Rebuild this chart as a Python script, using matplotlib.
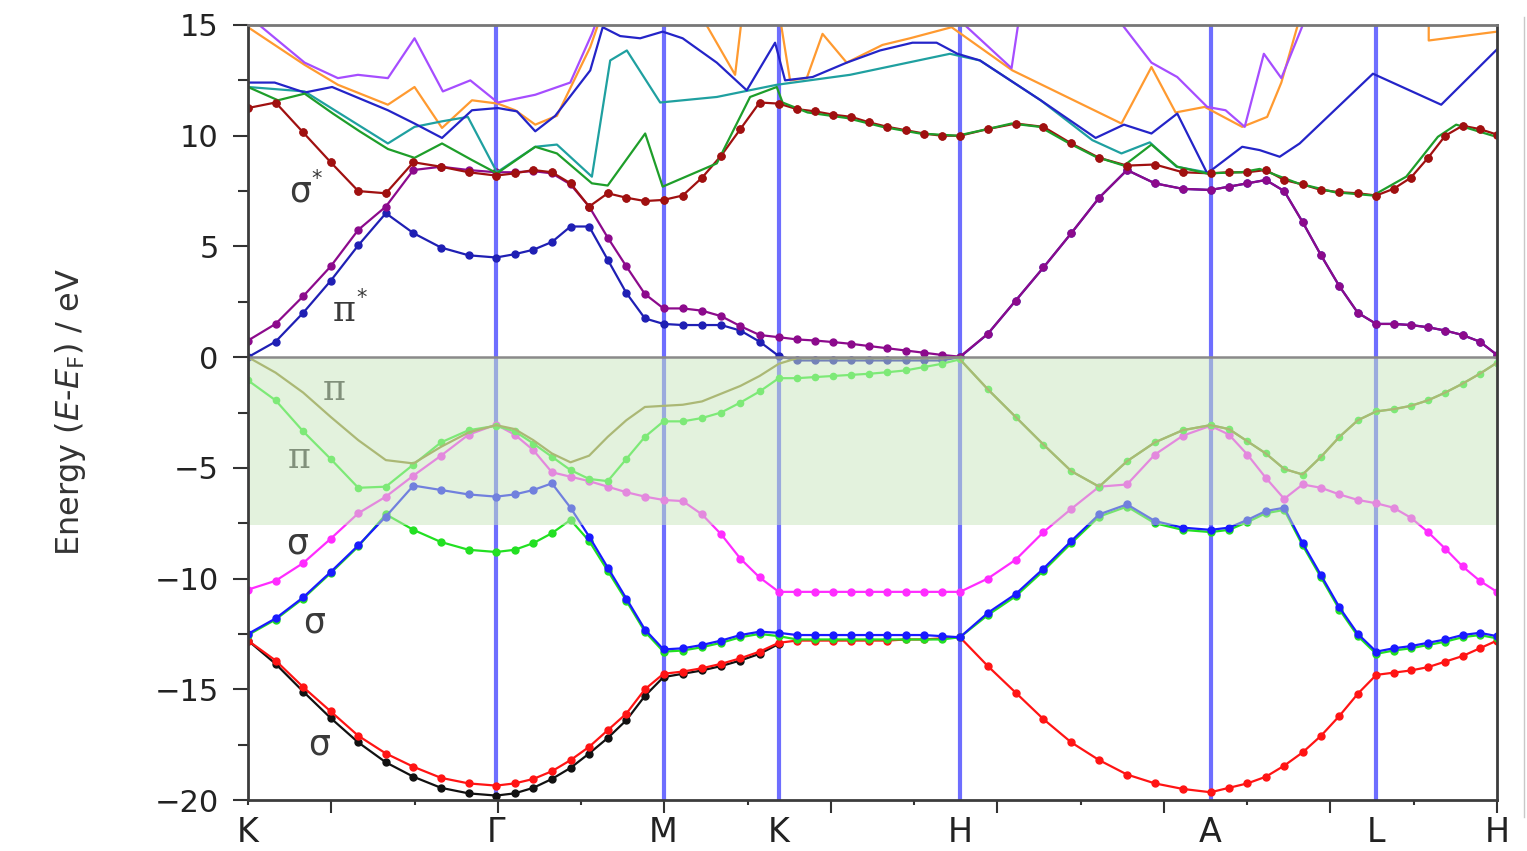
import numpy as np
import matplotlib
matplotlib.use("Agg")
import matplotlib.pyplot as plt
from matplotlib.ticker import FixedLocator

nan = np.nan

# high-symmetry points on the k-path (x in tick units)
sym_labels = ["K", "Γ", "M", "K", "H", "A", "L", "H"]
sym_pos = [0.0, 2.98, 4.99, 6.375, 8.55, 11.56, 13.55, 15.0]
seg_points = [9, 9, 6, 10, 9, 9, 7]

# ---- bands with k-point markers (60 k-points) ----
sigma_low = [
    -12.8, -13.7, -14.9, -16.0, -17.1, -17.9, -18.5, -19.0, -19.25, -19.35,
    -19.25, -19.05, -18.7, -18.2, -17.6, -16.85, -16.1, -15.0, -14.3,
    -14.2, -14.05, -13.85, -13.6, -13.3, -12.9,
    -12.8, -12.8, -12.8, -12.8, -12.8, -12.8, -12.75, -12.75, -12.7, -12.65,
    -13.95, -15.15, -16.35, -17.4, -18.2, -18.85, -19.25, -19.5, -19.65,
    -19.45, -19.25, -18.95, -18.45, -17.85, -17.1, -16.2, -15.2, -14.35,
    -14.25, -14.15, -14.0, -13.75, -13.5, -13.15, -12.8]

sigma_black = [
    -12.8, -13.85, -15.1, -16.3, -17.4, -18.3, -18.95, -19.45, -19.7, -19.8,
    -19.7, -19.45, -19.05, -18.55, -17.9, -17.2, -16.4, -15.3, -14.45,
    -14.3, -14.15, -13.95, -13.7, -13.4, -12.95]

sigma_blue = [
    -12.5, -11.8, -10.85, -9.7, -8.5, -7.2, -5.8, -6.0, -6.2, -6.3,
    -6.2, -6.0, -5.7, -6.8, -8.1, -9.5, -10.9, -12.3, -13.2,
    -13.15, -13.0, -12.8, -12.55, -12.4, -12.45,
    -12.55, -12.55, -12.55, -12.55, -12.55, -12.55, -12.55, -12.55, -12.6, -12.65,
    -11.55, -10.7, -9.55, -8.3, -7.1, -6.65, -7.4, -7.7, -7.8,
    -7.7, -7.35, -6.95, -6.8, -8.4, -9.85, -11.3, -12.5, -13.3,
    -13.15, -13.05, -12.9, -12.75, -12.55, -12.45, -12.6]

sigma_magenta = [
    -10.5, -10.1, -9.3, -8.2, -7.05, -6.3, -5.35, -4.45, -3.5, -3.05,
    -3.5, -4.2, -5.2, -5.4, -5.6, -5.85, -6.1, -6.3, -6.45,
    -6.5, -7.1, -8.0, -9.1, -9.95, -10.6,
    -10.6, -10.6, -10.6, -10.6, -10.6, -10.6, -10.6, -10.6, -10.6, -10.6,
    -10.0, -9.15, -7.9, -6.85, -5.85, -5.75, -4.4, -3.55, -3.1,
    -3.5, -4.4, -5.45, -6.4, -5.75, -5.9, -6.2, -6.45, -6.6,
    -6.8, -7.25, -7.9, -8.65, -9.45, -10.1, -10.6]

pi_low = [
    -12.55, -11.85, -10.9, -9.75, -8.55, -7.1, -7.8, -8.35, -8.7, -8.8,
    -8.7, -8.4, -7.95, -7.35, -8.3, -9.65, -11.0, -12.4, -13.3,
    -13.25, -13.1, -12.9, -12.65, -12.5, -12.6,
    -12.75, -12.75, -12.75, -12.75, -12.75, -12.75, -12.75, -12.75, -12.75, -12.65,
    -11.65, -10.8, -9.65, -8.4, -7.2, -6.75, -7.5, -7.8, -7.9,
    -7.8, -7.45, -7.05, -6.9, -8.5, -9.95, -11.4, -12.6, -13.4,
    -13.25, -13.15, -13.0, -12.85, -12.65, -12.55, -12.7]

pi_up = [
    -1.05, -1.95, -3.35, -4.6, -5.9, -5.85, -4.85, -3.85, -3.3, -3.1,
    -3.35, -3.9, -4.5, -5.1, -5.5, -5.6, -4.6, -3.6, -2.9,
    -2.9, -2.75, -2.5, -2.05, -1.55, -0.95,
    -0.95, -0.9, -0.85, -0.8, -0.75, -0.68, -0.6, -0.45, -0.3, -0.1,
    -1.45, -2.7, -3.95, -5.15, -5.85, -4.7, -3.85, -3.3, -3.07,
    -3.25, -3.8, -4.35, -5.05, -5.3, -4.5, -3.6, -2.85, -2.45,
    -2.35, -2.2, -1.95, -1.6, -1.2, -0.75, -0.25]

# olive pi line, K -> H part (beyond H it runs with pi_up)
pi_olive = [
    0.0, -0.7, -1.6, -2.7, -3.75, -4.65, -4.8, -4.05, -3.4, -3.07,
    -3.25, -3.75, -4.35, -4.75, -4.45, -3.6, -2.85, -2.25, -2.2,
    -2.15, -2.0, -1.65, -1.3, -0.85, -0.3,
    -0.05, -0.05, -0.05, -0.05, -0.05, -0.05, -0.05, -0.05, -0.05, 0.0]

pistar_purple = [
    0.75, 1.5, 2.75, 4.1, 5.75, 6.8, 8.45, 8.6, 8.45, 8.35,
    8.35, 8.4, 8.3, 7.8, 6.8, 5.4, 4.1, 2.85, 2.2,
    2.2, 2.1, 1.85, 1.4, 1.0, 0.9,
    0.8, 0.75, 0.68, 0.6, 0.5, 0.4, 0.3, 0.2, 0.1, 0.02,
    1.05, 2.55, 4.05, 5.6, 7.2, 8.45, 7.85, 7.6, 7.55,
    7.7, 7.85, 8.0, 7.5, 6.1, 4.6, 3.2, 2.0, 1.5,
    1.5, 1.45, 1.35, 1.2, 1.0, 0.7, 0.1]

# blue pi* band, K -> H part (beyond H it is degenerate with the purple one)
pistar_blue = [
    0.0, 0.7, 2.0, 3.45, 5.05, 6.5, 5.6, 4.95, 4.6, 4.5,
    4.65, 4.85, 5.2, 5.9, 5.9, 4.4, 2.9, 1.75, 1.5,
    1.45, 1.45, 1.45, 1.2, 0.7, 0.05,
    -0.15, -0.15, -0.15, -0.15, -0.15, -0.15, -0.15, -0.15, -0.15, 0.0]

sigma_star = [
    11.25, 11.5, 10.15, 8.8, 7.5, 7.4, 8.8, 8.6, 8.35, 8.2,
    8.3, 8.45, 8.35, 7.85, 6.8, 7.4, 7.2, 7.05, 7.1,
    7.3, 8.1, 9.1, 10.3, 11.5, 11.45,
    11.2, 11.1, 10.95, 10.85, 10.6, 10.4, 10.25, 10.1, 10.0, 10.0,
    10.3, 10.55, 10.4, 9.65, 9.0, 8.65, 8.7, 8.35, 8.3,
    8.35, 8.35, 8.45, 8.0, 7.8, 7.55, 7.45, 7.4, 7.3,
    7.6, 8.1, 9.0, 10.0, 10.45, 10.3, 10.05]

# ---- higher bands drawn as plain polylines (k, E) ----
orange_k = [0.0, 0.68, 1.08, 1.68, 2.0, 2.33, 2.69, 3.0, 3.21, 3.45, 3.71, 3.89, 4.11, 4.23, nan,
            5.46, 5.85, 5.93, nan, 6.39, 6.51, 6.71, 6.9, 7.19, 7.62, 7.95, 8.45, 9.18, 10.49,
            10.85, 11.14, 11.49, 11.94, 12.24, 12.41, 12.63, nan, 14.18, 14.18, 15.0]
orange_e = [14.9, 13.2, 12.3, 11.4, 12.2, 10.35, 11.6, 11.45, 11.15, 10.5, 10.9, 12.3, 14.0, 15.3, nan,
            15.3, 12.75, 15.3, nan, 15.3, 12.5, 12.6, 14.6, 13.3, 14.1, 14.4, 14.9, 12.95, 10.55,
            13.1, 11.05, 11.3, 10.4, 10.85, 12.4, 15.3, nan, 15.3, 14.3, 14.7]

violet_k = [0.07, 0.68, 1.08, 1.32, 1.68, 2.0, 2.34, 2.67, 3.0, 3.45, 3.87, 4.13, 4.2, nan,
            8.55, 9.17, 9.26, nan, 10.44, 10.85, 11.16, 11.52, 11.74, 11.97, 12.2, 12.41, 12.7]
violet_e = [15.2, 13.3, 12.6, 12.75, 12.6, 14.4, 12.0, 12.5, 11.5, 11.85, 12.4, 14.6, 15.3, nan,
            15.2, 13.05, 15.3, nan, 15.3, 13.3, 12.65, 11.3, 11.15, 10.4, 13.7, 12.6, 15.3]

navy_k = [0.0, 0.32, 0.68, 1.01, 1.68, 2.0, 2.33, 2.69, 3.0, 3.23, 3.45, 3.69, 4.11, 4.26, 4.47,
          4.71, 4.98, 5.22, 5.63, 5.99, 6.33, 6.45, 6.78, 7.19, 7.59, 7.98, 8.27, 8.52, 8.79,
          9.52, 10.18, 10.52, 10.85, 11.16, 11.52, 11.94, 12.15, 12.39, 12.63, 13.51, 14.33, 15.0]
navy_e = [12.4, 12.4, 11.95, 12.2, 11.15, 10.55, 9.9, 11.15, 11.25, 11.1, 10.2, 10.9, 12.95, 14.9, 14.5,
          14.4, 14.7, 14.4, 13.3, 12.05, 14.2, 12.5, 12.65, 13.3, 13.85, 14.2, 14.2, 13.7, 13.4,
          11.6, 9.9, 10.5, 10.1, 11.0, 8.3, 9.5, 9.35, 9.05, 9.65, 12.8, 11.4, 13.9]

teal_k = [0.0, 0.68, 1.02, 1.34, 1.68, 2.0, 2.33, 2.64, 2.99, 3.45, 3.71, 4.13, 4.35, 4.55,
          4.95, 5.63, 6.35, 7.23, 8.43, 8.79, 9.52, 10.14, 10.49, 10.83, 11.15, 11.51]
teal_e = [12.2, 12.0, 11.2, 10.45, 9.65, 10.4, 10.65, 10.85, 8.35, 9.5, 9.6, 8.15, 13.4, 13.85,
          11.5, 11.75, 12.3, 12.75, 13.7, 13.4, 11.6, 9.8, 9.2, 9.7, 8.6, 8.35]

green_k = [0.0, 0.36, 0.68, 1.02, 1.34, 1.68, 2.0, 2.33, 2.69, 2.99, 3.45, 3.71, 4.13, 4.32,
           4.77, 4.98, 5.63, 6.03, 6.35, 6.42, 6.72, 7.19, 7.62, 8.07, 8.52, 8.82, 9.17, 9.51,
           9.84, 10.18, 10.52, 10.85, 11.16, 11.51, 11.93, 12.15, 12.61, 13.05, 13.51, 13.91,
           14.29, 14.51, 14.95]
green_e = [12.2, 11.6, 11.9, 11.0, 10.2, 9.4, 9.0, 9.65, 8.9, 8.3, 9.5, 9.2, 7.85, 7.75,
           10.1, 7.7, 8.75, 11.75, 12.2, 11.5, 11.05, 10.8, 10.4, 10.1, 10.0, 10.25, 10.55, 10.4,
           9.7, 9.05, 8.65, 9.6, 8.6, 8.3, 8.35, 8.5, 7.85, 7.45, 7.3, 8.15,
           9.95, 10.5, 10.0]

# band-character labels: (text, k, E, family)
band_tags = [("σ", 0.62, 7.5, "DejaVu Sans"), ("π", 1.16, 2.1, "DejaVu Serif"),
             ("π", 1.04, -1.5, "DejaVu Serif"), ("π", 0.62, -4.55, "DejaVu Serif"),
             ("σ", 0.59, -8.4, "DejaVu Sans"), ("σ", 0.8, -12.0, "DejaVu Sans"),
             ("σ", 0.86, -17.5, "DejaVu Sans")]
starred = [0, 1]
shade_bottom = -7.6

# k grid
k = [sym_pos[0]]
for a, b, n in zip(sym_pos[:-1], sym_pos[1:], seg_points):
    k.extend(np.linspace(a, b, n + 1)[1:])
k = np.array(k)

plt.rcParams["font.family"] = "DejaVu Sans"
plt.rcParams["mathtext.fontset"] = "dejavusans"

fig = plt.figure(figsize=(15.27, 8.51), dpi=100)
ax = fig.add_axes([248 / 1527, 51 / 851, 1249 / 1527, 775 / 851])

# high-symmetry verticals
for x in sym_pos[1:-1]:
    ax.axvline(x, color="#6e6eff", lw=3.0, zorder=1)


def marked(y, color, z, ms=5.0):
    ax.plot(k[:len(y)], y, color=color, lw=1.6, marker="o", ms=ms,
            mec=color, mfc=color, zorder=z)


# valence bands
marked(sigma_black, "#111111", 2.0)
marked(sigma_low, "#ff1414", 2.1)
marked(pi_low, "#22e022", 2.2)
marked(sigma_blue, "#1a1aff", 2.3)
marked(sigma_magenta, "#ff2cff", 2.4)
marked(pi_up, "#33ee33", 2.5, ms=4.5)
ax.plot(k[:len(pi_olive)], pi_olive, color="#8f8a2e", lw=1.6, zorder=2.6)
ax.plot(k[len(pi_olive) - 1:], pi_up[len(pi_olive) - 1:], color="#8f8a2e", lw=1.6, zorder=2.6)

# conduction bands
pistar_blue_full = pistar_blue + pistar_purple[len(pistar_blue):]
marked(pistar_blue_full, "#1f1fb4", 2.2)
marked(pistar_purple, "#8c0a8c", 2.3)
marked(sigma_star, "#a01010", 2.4)

for kk, ee, c in [(orange_k, orange_e, "#ff9a30"), (violet_k, violet_e, "#a64dff"),
                  (teal_k, teal_e, "#1fa0a0"), (navy_k, navy_e, "#2424c8"),
                  (green_k, green_e, "#1e9e2a")]:
    ax.plot(kk, ee, color=c, lw=1.6, zorder=2.7)

# sigma* dots stay on top of the green line
ax.plot(k, sigma_star, ls="none", marker="o", ms=5.0, color="#a01010", zorder=2.8)

# labels
for i, (t, x, y, fam) in enumerate(band_tags):
    ax.text(x, y, t, family=fam, fontsize=25, color="#3a3a3a",
            ha="center", va="center", zorder=3)
    if i in starred:
        ax.text(x + 0.2, y + 0.55, "*", fontsize=15, color="#3a3a3a",
                ha="center", va="center", zorder=3)

# occupied-region shading over the bands
ax.axhspan(shade_bottom, 0, xmin=0, xmax=1, facecolor="#c8e6bc", alpha=0.5,
           lw=0, zorder=4)
ax.axhline(0, color="#8a8a8a", lw=1.8, zorder=5)

ax.set_xlim(0, 15)
ax.set_ylim(-20, 15)

ax.xaxis.set_major_locator(FixedLocator(np.arange(1, 16, 2)))
ax.xaxis.set_minor_locator(FixedLocator(np.arange(0, 15, 2)))
ax.set_xticklabels([])
ax.yaxis.set_major_locator(FixedLocator(np.arange(-20, 16, 5)))
ax.yaxis.set_minor_locator(FixedLocator(np.arange(-17.5, 15, 5)))
ax.tick_params(axis="x", which="major", length=9, width=1.5, color="#333333", direction="out")
ax.tick_params(axis="x", which="minor", length=3.5, width=1.5, color="#333333", direction="out")
ax.tick_params(axis="y", which="major", length=11, width=1.5, color="#333333",
               direction="out", labelsize=22, pad=10, labelcolor="#222222")
ax.tick_params(axis="y", which="minor", length=7, width=1.5, color="#333333", direction="out")
for sp in ax.spines.values():
    sp.set_color("#3c3c3c")
    sp.set_linewidth(2.0)
    sp.set_zorder(6)
ax.spines["top"].set_color("#777777")

# k-point names under the axis
for lab, x in zip(sym_labels, sym_pos):
    ax.text(x, -0.021, lab, transform=ax.get_xaxis_transform(), fontsize=24,
            ha="center", va="top", color="#222222", clip_on=False)

ax.set_ylabel(r"Energy ($\mathit{E}$-$\mathit{E}_{\mathrm{F}}$) / eV", fontsize=23,
              color="#333333")
ax.yaxis.set_label_coords(-0.128, 0.5)

fig.add_artist(plt.Line2D([1524 / 1527] * 2, [0.04, 0.98], color="#c8c8c8", lw=1.0,
                          transform=fig.transFigure))

fig.savefig("out.png", dpi=100, facecolor="white")
